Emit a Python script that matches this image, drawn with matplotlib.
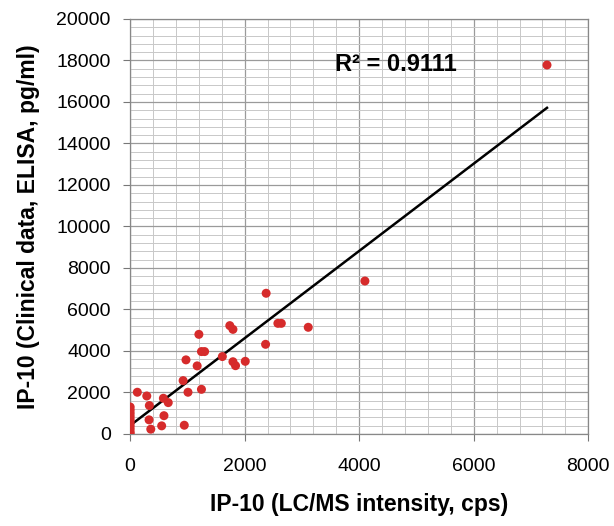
import matplotlib.pyplot as plt
import numpy as np
from matplotlib.ticker import MultipleLocator

plt.rcParams["font.family"] = ["Liberation Sans", "DejaVu Sans"]

# IP-10: LC/MS intensity (cps) vs clinical ELISA (pg/ml)
lcms = [0, 0, 0, 0, 0, 0, 0, 0, 0, 0,
        125, 290, 335, 330, 360, 550, 580, 665, 590, 945,
        925, 1010, 1245, 975, 1170, 1200, 1245, 1300, 1610, 1740,
        1795, 1795, 1840, 2010, 2375, 2365, 2580, 2640, 3110, 4100,
        7280]
elisa = [0, 100, 250, 400, 550, 700, 850, 1000, 1150, 1300,
         2010, 1830, 1370, 680, 230, 390, 1720, 1510, 880, 420,
         2570, 2010, 2150, 3570, 3280, 4800, 3970, 3970, 3730, 5220,
         5040, 3480, 3290, 3500, 6780, 4320, 5330, 5330, 5140, 7370,
         17780]
r2_label = "R² = 0.9111"

x = np.array(lcms, dtype=float)
y = np.array(elisa, dtype=float)
slope, intercept = np.polyfit(x, y, 1)

fig = plt.figure(figsize=(6.14, 5.26), dpi=100)
ax = fig.add_axes([0.212, 0.175, 0.746, 0.789])

ax.set_xlim(0, 8000)
ax.set_ylim(0, 20000)
ax.xaxis.set_major_locator(MultipleLocator(2000))
ax.yaxis.set_major_locator(MultipleLocator(2000))
ax.xaxis.set_minor_locator(MultipleLocator(400))
ax.yaxis.set_minor_locator(MultipleLocator(400))
ax.grid(which="minor", color="#c8c8c8", linewidth=0.7)
ax.grid(which="major", color="#9a9a9a", linewidth=0.9)
ax.set_axisbelow(True)
ax.tick_params(which="major", direction="out", length=5, color="#777777",
               labelsize=14)
ax.tick_params(axis="y", pad=9)
ax.tick_params(axis="x", pad=12)
ax.tick_params(which="minor", length=0)
for s in ax.spines.values():
    s.set_color("#888888")
    s.set_linewidth(0.9)

xf = np.array([0, x.max()])
ax.plot(xf, slope * xf + intercept, color="black", linewidth=1.8, zorder=3)
ax.scatter(x, y, s=42, color="#d62b2b", edgecolors="none", zorder=4)

ax.text(3580, 17800, r2_label, fontsize=17, fontweight="bold", va="center")

ax.set_xlabel("IP-10 (LC/MS intensity, cps)", fontsize=16.5, fontweight="bold",
              labelpad=13)
ax.set_ylabel("IP-10 (Clinical data, ELISA, pg/ml)", fontsize=16.5,
              fontweight="bold", labelpad=12)

fig.savefig("out.png", dpi=100)
